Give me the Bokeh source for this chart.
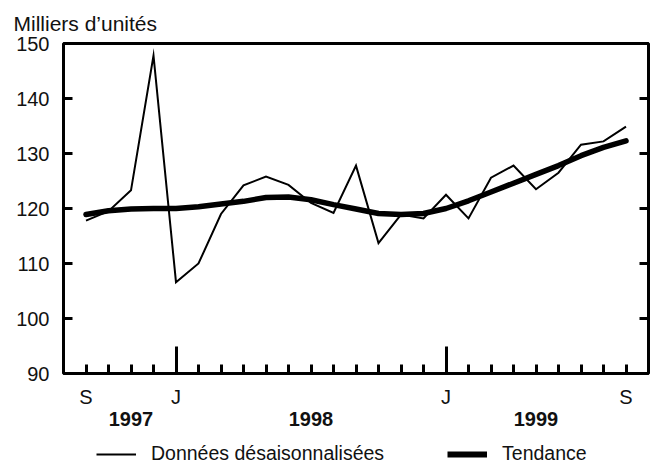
from bokeh.plotting import figure
from bokeh.models import (LinearAxis, FixedTicker, Range1d, Legend, LegendItem)
from bokeh.layouts import column
from bokeh.embed import file_html
from bokeh.resources import INLINE

# Months from September 1997 (index 0) to September 1999 (index 24)
month_idx = list(range(25))
month_labels = {0: "S", 4: "J", 16: "J", 24: "S"}
january_idx = [4, 16]
year_pos = [2, 10, 20]
year_labels = ["1997", "1998", "1999"]

donnees = [117.8, 119.5, 123.3, 147.8, 106.6, 110.0, 119.0, 124.2, 125.8,
           124.3, 121.0, 119.2, 127.8, 113.7, 118.9, 118.2, 122.5, 118.2,
           125.6, 127.8, 123.5, 126.5, 131.6, 132.2, 134.9]
tendance = [118.9, 119.6, 119.9, 120.0, 120.0, 120.3, 120.8, 121.3, 122.0,
            122.1, 121.6, 120.7, 119.9, 119.1, 118.9, 119.1, 120.0, 121.4,
            123.0, 124.6, 126.2, 127.8, 129.6, 131.1, 132.3]
y_ticks = [90, 100, 110, 120, 130, 140, 150]
series_names = ["Donn\u00e9es d\u00e9saisonnalis\u00e9es", "Tendance"]

FONT = "Liberation Sans"
TXT = "#111111"

p = figure(width=654, height=437, output_backend="svg", toolbar_location=None,
           x_range=Range1d(-1, 25), y_range=Range1d(90, 150),
           x_axis_location=None, y_axis_location=None,
           min_border_left=63, min_border_right=6, min_border_top=43,
           min_border_bottom=64)
p.xgrid.visible = False
p.ygrid.visible = False
p.outline_line_color = "black"
p.outline_line_width = 3
p.background_fill_color = "white"
p.border_fill_color = "white"

p.title.text = "Milliers d\u2019unit\u00e9s"
p.title.text_font = FONT
p.title.text_font_size = "21px"
p.title.text_font_style = "normal"
p.title.text_color = TXT
p.title.offset = -50
p.title.standoff = 18

# left axis
ya = LinearAxis(ticker=FixedTicker(ticks=y_ticks, minor_ticks=[]))
ya.axis_line_color = None
ya.major_tick_in = 9
ya.major_tick_out = 0
ya.major_tick_line_width = 3
ya.minor_tick_line_color = None
ya.major_label_text_font = FONT
ya.major_label_text_font_size = "20px"
ya.major_label_text_color = TXT
ya.major_label_standoff = 14
p.add_layout(ya, "left")

# right axis (ticks only)
yr = LinearAxis(ticker=FixedTicker(ticks=y_ticks, minor_ticks=[]))
yr.axis_line_color = None
yr.major_tick_in = 9
yr.major_tick_out = 0
yr.major_tick_line_width = 3
yr.minor_tick_line_color = None
yr.major_label_text_font_size = "0px"
yr.major_label_text_alpha = 0
yr.major_label_standoff = 0
p.add_layout(yr, "right")

# bottom axis: month ticks, long ticks at January
xa = LinearAxis(ticker=FixedTicker(ticks=month_idx, minor_ticks=january_idx))
xa.axis_line_color = None
xa.major_tick_in = 9
xa.major_tick_out = 0
xa.major_tick_line_width = 3
xa.minor_tick_in = 27
xa.minor_tick_out = 0
xa.minor_tick_line_width = 3
xa.minor_tick_line_color = "black"
xa.major_label_overrides = {i: month_labels.get(i, "") for i in month_idx}
xa.major_label_text_font = FONT
xa.major_label_text_font_size = "20px"
xa.major_label_text_color = TXT
xa.major_label_standoff = 12
p.add_layout(xa, "below")

# year labels
xy = LinearAxis(ticker=FixedTicker(ticks=year_pos, minor_ticks=[]))
xy.axis_line_color = None
xy.major_tick_line_color = None
xy.minor_tick_line_color = None
xy.major_tick_in = 0
xy.major_tick_out = 0
xy.major_label_overrides = {pos: lab for pos, lab in zip(year_pos, year_labels)}
xy.major_label_text_font = FONT
xy.major_label_text_font_size = "20px"
xy.major_label_text_font_style = "bold"
xy.major_label_text_color = TXT
xy.major_label_standoff = 1
p.add_layout(xy, "below")

p.line(month_idx, donnees, line_color="black", line_width=2, line_join="miter")
p.line(month_idx, tendance, line_color="black", line_width=5.5,
       line_join="round", line_cap="round")

# legend strip below the chart (series lie outside its visible range)
lg = figure(width=654, height=28, output_backend="svg", toolbar_location=None,
            x_range=Range1d(-1, 25), y_range=Range1d(0, 1),
            x_axis_location=None, y_axis_location=None,
            min_border_left=0, min_border_right=0, min_border_top=0,
            min_border_bottom=0)
lg.xgrid.visible = False
lg.ygrid.visible = False
lg.outline_line_color = None
lg.background_fill_color = "white"
lg.border_fill_color = "white"
l1 = lg.line(month_idx, donnees, line_color="black", line_width=2)
l2 = lg.line(month_idx, tendance, line_color="black", line_width=6)

legend = Legend(items=[LegendItem(label=series_names[0], renderers=[l1]),
                       LegendItem(label=series_names[1], renderers=[l2])],
                orientation="horizontal", location=(33, 0))
legend.border_line_color = None
legend.background_fill_alpha = 0
legend.label_text_font = FONT
legend.label_text_font_size = "19.5px"
legend.label_text_color = TXT
legend.glyph_width = 40
legend.glyph_height = 16
legend.label_height = 16
legend.label_standoff = 15
legend.spacing = 63
legend.padding = 0
legend.margin = 0
lg.add_layout(legend, "center")

layout = column(p, lg, spacing=0)
html = file_html(layout, INLINE)
open("out.html", "w").write(html)
